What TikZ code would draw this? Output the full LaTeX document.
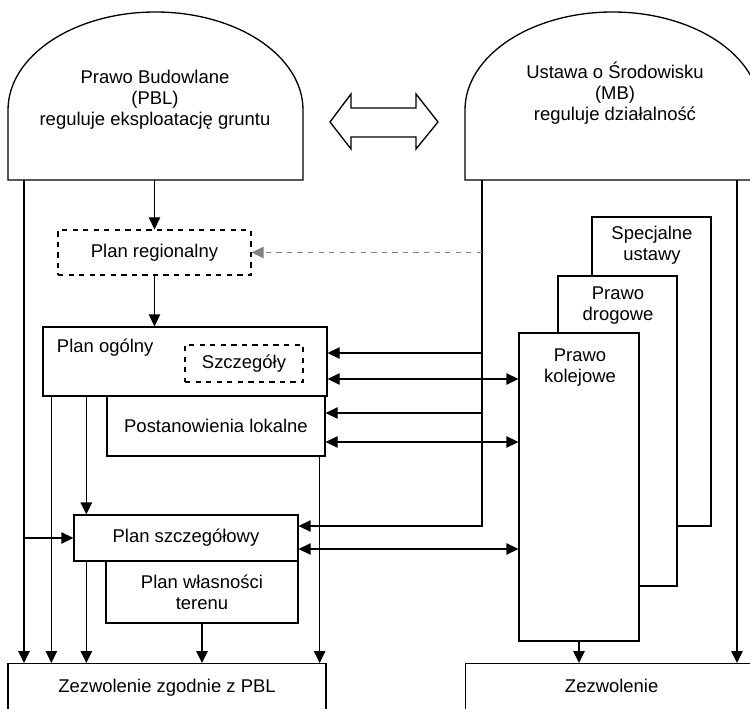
\documentclass[tikz,border=0pt]{standalone}
\usepackage{fontspec}
\setmainfont{Liberation Sans}
\usetikzlibrary{arrows.meta,positioning}

\tikzset{
  box/.style={draw,fill=white,inner sep=0pt},
  dbox/.style={draw,dashed,inner sep=0pt},
  >={Triangle[length=2.4mm,width=2.3mm]},
}

\begin{document}
\begin{tikzpicture}[line width=0.75pt,font=\fontsize{10.5}{12}\selectfont]
            \useasboundingbox (0,0) rectangle (15,14.16);
            \clip (0,0) rectangle (15,14.16);
            % domes
            \draw (0.16,10.56) -- (0.16,11.96) arc[start angle=180,end angle=0,x radius=2.95,y radius=1.96] -- (6.06,10.56) -- cycle;
            \draw (9.3,10.56) -- (9.3,11.96) arc[start angle=180,end angle=0,x radius=2.95,y radius=1.96] -- (15.2,10.56) -- cycle;
            \node[align=center] (pbl) at (3.1,12.16) {Prawo Budowlane\\(PBL)\\reguluje eksploatację gruntu};
            \node[align=center] (mb) at (12.3,12.3) {Ustawa o Środowisku\\(MB)\\reguluje działalność};
            \draw (6.6,11.72) -- (7.02,12.28) -- (7.02,12) -- (8.32,12) -- (8.32,12.28) -- (8.76,11.72)
                  -- (8.32,11.18) -- (8.32,11.42) -- (7.02,11.42) -- (7.02,11.18) -- cycle;
            \coordinate (pblL) at (0.48,10.56);
            \coordinate (pblB) at (3.09,10.56);
            \coordinate (mbL) at (9.64,10.56);
            \coordinate (mbR) at (14.74,10.56);
            % left column
            \node[dbox,minimum width=3.86cm,minimum height=0.9cm] (preg) at (3.09,9.11) {Plan regionalny};
            \node[box,minimum width=4.36cm,minimum height=1.2cm] (post) at (4.32,5.64) {Postanowienia lokalne};
            \node[box,minimum width=5.68cm,minimum height=1.38cm] (pog) at (3.7,6.93) {};
            \node[anchor=west,inner sep=0pt] (pogtxt) at ([xshift=2.8mm,yshift=-4.2mm]pog.north west) {Plan ogólny};
            \node[dbox,minimum width=2.36cm,minimum height=0.74cm] (szcz) at (4.88,6.89) {Szczegóły};
            \node[box,minimum width=3.84cm,minimum height=1.24cm,align=center] (pwl) at (4.04,2.32) {Plan własności\\terenu};
            \node[box,minimum width=4.48cm,minimum height=0.92cm] (psz) at (3.72,3.4) {Plan szczegółowy};
            \node[box,anchor=north,minimum width=6.36cm,text height=0.57cm,text depth=1cm] (zpbl) at (3.34,0.9) {Zezwolenie zgodnie z PBL};
            % right column
            \node[box,minimum width=2.38cm,minimum height=6.18cm] (spec) at (13.03,6.73) {};
            \node[align=center] (spectxt) at (13.04,9.25) {Specjalne\\ustawy};
            \node[box,minimum width=2.38cm,minimum height=6.2cm] (drog) at (12.35,5.54) {};
            \node[align=center] (drogtxt) at (12.36,8.05) {Prawo\\drogowe};
            \node[box,minimum width=2.4cm,minimum height=6.16cm] (kolej) at (11.58,4.42) {};
            \node[align=center] (kolejtxt) at (11.6,6.81) {Prawo\\kolejowe};
            \node[box,anchor=north west,minimum width=5.84cm,text height=0.57cm,text depth=1cm] (zmb) at (9.3,0.9) {Zezwolenie};
            % connectors
            \draw[->] (pblB) -- (preg);
            \draw[->] (preg) -- (preg |- pog.north);
            \draw[->] (pblL) -- (pblL |- zpbl.north);
            \draw[->] (pblL |- psz.west) -- (psz.west);
            \draw[->] ([xshift=1.8mm]pog.south west) coordinate (pogC) -- (pogC |- zpbl.north);
            \draw[->] ([xshift=8.8mm]pog.south west) coordinate (pogD) -- (pogD |- psz.north);
            \draw[->] (pogD |- psz.south) -- (pogD |- zpbl.north);
            \draw[->] (pwl) -- (pwl |- zpbl.north);
            \draw[->] ([xshift=-1.2mm]post.south east) coordinate (postC) -- (postC |- zpbl.north);
            \draw[->] (kolej) -- (kolej |- zmb.north);
            \draw[->] (mbR) -- (mbR |- zmb.north);
            \draw[->] (mbL) |- ([yshift=2.4mm]psz.east);
            \draw[->,dashed,gray] (mbL |- preg.east) -- (preg);
            \draw[<-] ([yshift=1.7mm]pog.east) coordinate (pogA) -- (mbL |- pogA);
            \draw[<->] ([yshift=-3.5mm]pog.east) coordinate (pogB) -- (kolej.west |- pogB);
            \draw[<-] ([yshift=2.6mm]post.east) coordinate (postA) -- (mbL |- postA);
            \draw[<->] ([yshift=-3.2mm]post.east) coordinate (postB) -- (kolej.west |- postB);
            \draw[<->] ([yshift=-2.2mm]psz.east) coordinate (pszB) -- (kolej.west |- pszB);
        \end{tikzpicture}
\end{document}
